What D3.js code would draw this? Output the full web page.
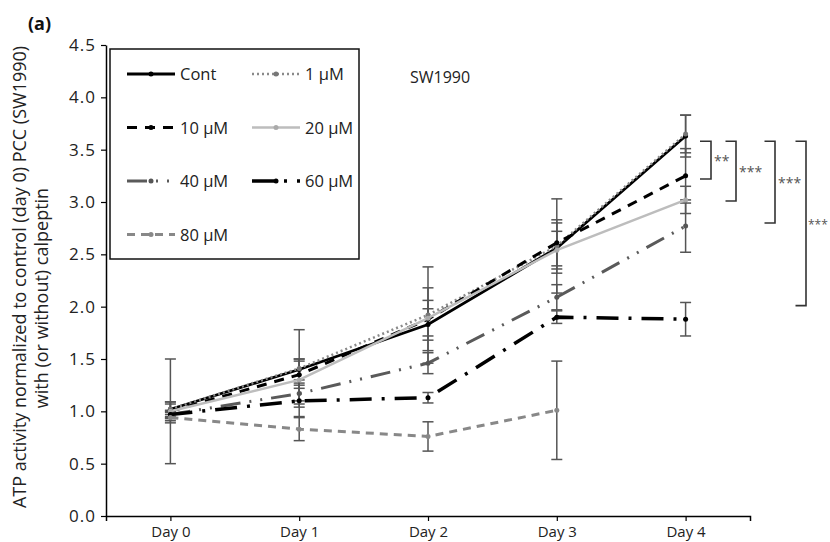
<!DOCTYPE html>
<html>
<head>
<meta charset="utf-8">
<script src="https://cdn.jsdelivr.net/npm/d3@7"></script>
<style>
  body { margin: 0; background: #fff; }
  text { font-family: "Open Sans", sans-serif; }
</style>
</head>
<body>
<div id="chart-area"></div>
<script>
const days = ['Day 0', 'Day 1', 'Day 2', 'Day 3', 'Day 4'];
const seriesNames = ['Cont', '1 µM', '10 µM', '20 µM', '40 µM', '60 µM', '80 µM'];

// means (80 µM has no Day 4 point)
const contVals = [1.02, 1.40, 1.83, 2.56, 3.63];
const um1Vals  = [1.02, 1.41, 1.92, 2.58, 3.65];
const um10Vals = [1.00, 1.35, 1.88, 2.61, 3.25];
const um20Vals = [1.00, 1.30, 1.89, 2.54, 3.02];
const um40Vals = [0.97, 1.17, 1.46, 2.09, 2.77];
const um60Vals = [0.97, 1.10, 1.13, 1.90, 1.88];
const um80Vals = [0.94, 0.83, 0.76, 1.01, null];

// error bar half-lengths
const contErr = [0.07, 0.10, 0.15, 0.24, 0.20];
const um1Err  = [0.05, 0.37, 0.46, 0.45, 0.18];
const um10Err = [0.50, 0.13, 0.30, 0.22, 0.26];
const um20Err = [0.09, 0.20, 0.17, 0.18, 0.13];
const um40Err = [0.04, 0.10, 0.10, 0.12, 0.25];
const um60Err = [0.03, 0.15, 0.05, 0.06, 0.16];
const um80Err = [0.05, 0.11, 0.14, 0.47, null];

const yTicks = [0, 0.5, 1, 1.5, 2, 2.5, 3, 3.5, 4, 4.5];

// significance brackets at Day 4
const bracketTop = 3.58;
const bracketBottoms = [3.22, 3.01, 2.80, 2.01];
const bracketLabels = ['**', '***', '***', '***'];

const allVals = [contVals, um1Vals, um10Vals, um20Vals, um40Vals, um60Vals, um80Vals];
const allErr = [contErr, um1Err, um10Err, um20Err, um40Err, um60Err, um80Err];

const styles = [
  { color: '#000', width: 2.8, dash: null, mark: '#000' },
  { color: '#8a8a8a', width: 2.5, dash: '2,3', mark: '#777' },
  { color: '#000', width: 3, dash: '10,8', mark: '#000' },
  { color: '#bdbdbd', width: 2.5, dash: null, mark: '#aaa' },
  { color: '#5a5a5a', width: 3, dash: '20,9,2,9,2,9', mark: '#555' },
  { color: '#000', width: 3.5, dash: '22,10,3,10', mark: '#000' },
  { color: '#888', width: 3, dash: '8,6', mark: '#888' }
];

const series = seriesNames.map((name, i) => ({
  name,
  style: styles[i],
  points: days.map((d, j) => ({ day: d, value: allVals[i][j], err: allErr[i][j] }))
    .filter(p => p.value !== null)
}));

const W = 830, H = 542;
const svg = d3.select('#chart-area').append('svg')
  .attr('width', W)
  .attr('height', H);

const x = d3.scalePoint()
  .domain(days)
  .range([106, 750])
  .padding(0.5);

const y = d3.scaleLinear()
  .domain([0, 4.5])
  .range([516, 45]);

// axes
const yAxis = svg.append('g')
  .attr('transform', 'translate(106,0)')
  .call(d3.axisLeft(y).tickValues(yTicks).tickFormat(d3.format('.1f')).tickSize(5).tickSizeOuter(0));
yAxis.select('.domain').attr('stroke', '#000').attr('stroke-width', 1.5);
yAxis.selectAll('.tick line').attr('stroke', '#000').attr('stroke-width', 1.2);
yAxis.selectAll('.tick text').attr('font-size', 17).attr('fill', '#222').attr('x', -10)
  .style('letter-spacing', '1px')
  .style('font-family', '"Open Sans", sans-serif');

const xAxis = svg.append('g')
  .attr('transform', 'translate(0,516)')
  .call(d3.axisBottom(x).tickSize(5).tickSizeOuter(5));
xAxis.select('.domain').attr('stroke', '#000').attr('stroke-width', 1.5);
xAxis.selectAll('.tick line').attr('stroke', '#000').attr('stroke-width', 1.2);
xAxis.selectAll('.tick text').attr('font-size', 15).attr('fill', '#222').attr('y', 10)
  .style('font-family', '"Open Sans", sans-serif');

// y axis title
svg.append('text')
  .attr('transform', 'translate(26,277) rotate(-90)')
  .attr('text-anchor', 'middle')
  .attr('font-size', 18)
  .attr('fill', '#222')
  .text('ATP activity normalized to control (day 0) PCC (SW1990)');
svg.append('text')
  .attr('transform', 'translate(48,298) rotate(-90)')
  .attr('text-anchor', 'middle')
  .attr('font-size', 18)
  .attr('fill', '#222')
  .text('with (or without) calpeptin');

svg.append('text')
  .attr('x', 28).attr('y', 30)
  .attr('font-size', 18).attr('font-weight', 'bold')
  .attr('fill', '#111')
  .text('(a)');

svg.append('text')
  .attr('x', 410).attr('y', 83)
  .attr('font-size', 16).attr('fill', '#222')
  .text('SW1990');

// error bars
const capW = 5.5;
const eg = svg.append('g').attr('stroke', '#555').attr('stroke-width', 1.5);
series.forEach(s => {
  s.points.forEach(p => {
    const cx = x(p.day);
    const y0 = y(p.value + p.err), y1 = y(p.value - p.err);
    eg.append('line').attr('x1', cx).attr('x2', cx).attr('y1', y0).attr('y2', y1);
    eg.append('line').attr('x1', cx - capW).attr('x2', cx + capW).attr('y1', y0).attr('y2', y0);
    eg.append('line').attr('x1', cx - capW).attr('x2', cx + capW).attr('y1', y1).attr('y2', y1);
  });
});

// lines
const line = d3.line()
  .x(d => x(d.day))
  .y(d => y(d.value));

series.forEach(s => {
  svg.append('path')
    .datum(s.points)
    .attr('fill', 'none')
    .attr('stroke', s.style.color)
    .attr('stroke-width', s.style.width)
    .attr('stroke-dasharray', s.style.dash)
    .attr('d', line);
  svg.append('g').selectAll('circle').data(s.points).join('circle')
    .attr('cx', d => x(d.day))
    .attr('cy', d => y(d.value))
    .attr('r', 2.5)
    .attr('fill', s.style.mark);
});

// brackets
const bx = [711, 736, 775, 806];
const bg = svg.append('g');
bracketBottoms.forEach((b, i) => {
  const arm = i === 0 ? 11 : 10.5;
  bg.append('path')
    .attr('fill', 'none')
    .attr('stroke', '#333')
    .attr('stroke-width', 1.6)
    .attr('d', `M${bx[i] - arm},${y(bracketTop)}H${bx[i]}V${y(b)}H${bx[i] - arm}`);
  const last = i === bracketBottoms.length - 1;
  bg.append('text')
    .attr('x', last ? bx[i] + 2 : bx[i] + 3)
    .attr('y', (y(bracketTop) + y(b)) / 2 + 6)
    .attr('font-size', last ? 12 : 14)
    .attr('fill', '#555')
    .text(bracketLabels[i]);
});

// legend
const lg = svg.append('g');
lg.append('rect')
  .attr('x', 110).attr('y', 49)
  .attr('width', 249).attr('height', 210)
  .attr('fill', '#fff')
  .attr('stroke', '#111')
  .attr('stroke-width', 1.5);
series.forEach((s, i) => {
  const col = i % 2, row = Math.floor(i / 2);
  const lx = col === 0 ? 127 : 252;
  const ly = 74 + row * 53.5;
  lg.append('line')
    .attr('x1', lx).attr('x2', lx + 48)
    .attr('y1', ly).attr('y2', ly)
    .attr('stroke', s.style.color)
    .attr('stroke-width', s.style.width)
    .attr('stroke-dasharray', s.style.dash);
  lg.append('circle')
    .attr('cx', lx + 24).attr('cy', ly).attr('r', 2.5)
    .attr('fill', s.style.mark);
  lg.append('text')
    .attr('x', lx + 53).attr('y', ly + 6)
    .attr('font-size', 16.5).attr('fill', '#222')
    .text(s.name);
});
</script>
</body>
</html>
